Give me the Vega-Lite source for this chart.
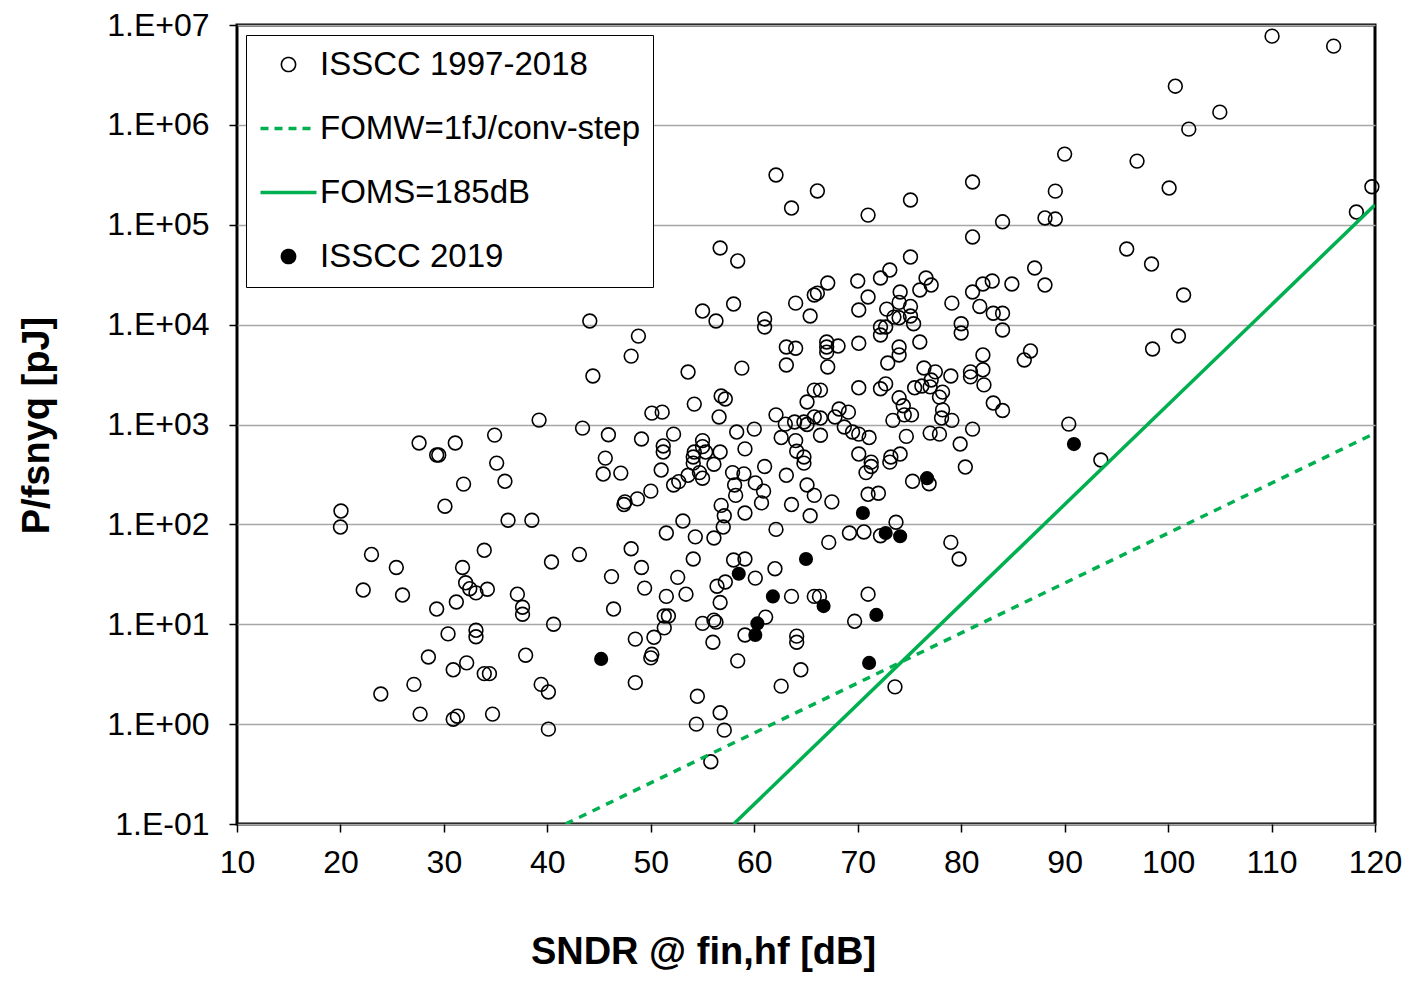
{
  "$schema": "https://vega.github.io/schema/vega-lite/v6.json",
  "width": 1138,
  "height": 799,
  "autosize": {"type": "none"},
  "padding": {"left": 237, "top": 25, "right": 49, "bottom": 157},
  "background": "white",
  "config": {
    "font": "Liberation Sans",
    "view": {"stroke": "black", "strokeWidth": 3}
  },
  "datasets": {
    "old": [
      {"sndr":20.05,"e":136},{"sndr":20,"e":94},{"sndr":23,"e":50},{"sndr":22.2,"e":22},{"sndr":25.4,"e":37},{"sndr":26,"e":19.6},{"sndr":23.9,"e":2.0},{"sndr":27.6,"e":653},{"sndr":29.3,"e":495},{"sndr":29.5,"e":495},{"sndr":31.1,"e":653},{"sndr":30.1,"e":152},{"sndr":31.9,"e":253},{"sndr":28.5,"e":4.7},{"sndr":27.1,"e":2.5},{"sndr":27.7,"e":1.26},{"sndr":29.3,"e":14.2},{"sndr":30.4,"e":8.0},{"sndr":30.9,"e":3.5},{"sndr":30.9,"e":1.12},{"sndr":31.3,"e":1.2},{"sndr":31.2,"e":16.7},{"sndr":31.8,"e":37},{"sndr":32.1,"e":26},{"sndr":32.5,"e":22.7},{"sndr":33.1,"e":20.6},{"sndr":34.2,"e":22.4},{"sndr":32.2,"e":4.1},{"sndr":33.1,"e":8.7},{"sndr":33.1,"e":7.5},{"sndr":33.9,"e":55},{"sndr":33.9,"e":3.2},{"sndr":34.4,"e":3.2},{"sndr":34.7,"e":1.26},{"sndr":34.9,"e":783},{"sndr":35.1,"e":411},{"sndr":35.9,"e":270},{"sndr":36.2,"e":110},{"sndr":37.1,"e":20},{"sndr":37.6,"e":14.8},{"sndr":37.6,"e":12.6},{"sndr":37.9,"e":4.9},{"sndr":38.5,"e":110},{"sndr":39.2,"e":1107},{"sndr":39.4,"e":2.5},{"sndr":40.1,"e":2.1},{"sndr":40.1,"e":0.89},{"sndr":40.4,"e":42},{"sndr":40.6,"e":10},{"sndr":43.1,"e":50},{"sndr":44.1,"e":10870},{"sndr":44.4,"e":3060},{"sndr":43.4,"e":920},{"sndr":45.9,"e":790},{"sndr":45.6,"e":461},{"sndr":45.4,"e":319},{"sndr":46.2,"e":30},{"sndr":46.4,"e":14.2},{"sndr":47.1,"e":326},{"sndr":47.4,"e":158},{"sndr":47.5,"e":168},{"sndr":48.7,"e":180},{"sndr":50,"e":215},{"sndr":48.8,"e":7680},{"sndr":48.1,"e":4840},{"sndr":49.1,"e":716},{"sndr":48.1,"e":57},{"sndr":49.1,"e":37},{"sndr":49.4,"e":23},{"sndr":48.5,"e":7.1},{"sndr":48.5,"e":2.6},{"sndr":50.1,"e":5.0},{"sndr":50,"e":4.6},{"sndr":50.3,"e":7.4},
      {"sndr":50.1,"e":1300},{"sndr":51.1,"e":1330},{"sndr":51.2,"e":610},{"sndr":51.2,"e":530},{"sndr":52.2,"e":800},{"sndr":51,"e":350},{"sndr":52.2,"e":248},{"sndr":52.7,"e":268},{"sndr":53.6,"e":310},{"sndr":53.1,"e":108},{"sndr":51.5,"e":82},{"sndr":51.5,"e":19},{"sndr":51.3,"e":12.1},{"sndr":51.7,"e":12.1},{"sndr":51.3,"e":9.2},{"sndr":52.6,"e":29.5},{"sndr":53.4,"e":20},{"sndr":53.6,"e":3350},{"sndr":54.2,"e":1600},{"sndr":54.1,"e":473},{"sndr":54.2,"e":530},{"sndr":54.1,"e":410},{"sndr":54.7,"e":330},{"sndr":54.3,"e":75},{"sndr":54.1,"e":45},{"sndr":54.5,"e":1.9},{"sndr":54.4,"e":1.0},{"sndr":55,"e":13680},{"sndr":55,"e":690},{"sndr":55,"e":600},{"sndr":55,"e":290},{"sndr":55.3,"e":530},{"sndr":55,"e":10.2},{"sndr":55.8,"e":0.42},{"sndr":56.3,"e":10870},{"sndr":56.7,"e":58500},{"sndr":56.8,"e":1930},{"sndr":57.2,"e":1800},{"sndr":56.6,"e":1190},{"sndr":56.7,"e":530},{"sndr":56.1,"e":400},{"sndr":56.1,"e":73},{"sndr":56.8,"e":155},{"sndr":57.1,"e":122},{"sndr":57,"e":94},{"sndr":56.4,"e":24},{"sndr":57.2,"e":26.5},{"sndr":56.7,"e":16.5},{"sndr":56.1,"e":11},{"sndr":56.3,"e":10.5},{"sndr":56,"e":6.6},{"sndr":56.7,"e":1.3},{"sndr":57.1,"e":0.87},
      {"sndr":58,"e":16070},{"sndr":58.4,"e":43400},{"sndr":58.8,"e":3670},{"sndr":58.3,"e":840},{"sndr":57.9,"e":330},{"sndr":58.1,"e":248},{"sndr":58.2,"e":195},{"sndr":58,"e":44},{"sndr":58.4,"e":4.3},{"sndr":59.1,"e":570},{"sndr":59,"e":320},{"sndr":59.1,"e":130},{"sndr":59.1,"e":45},{"sndr":59.1,"e":7.8},{"sndr":60,"e":900},{"sndr":60.1,"e":260},{"sndr":60.7,"e":164},{"sndr":60.1,"e":29},{"sndr":61,"e":11400},{"sndr":61,"e":9460},{"sndr":60.9,"e":215},{"sndr":61,"e":380},{"sndr":61.1,"e":11.8},{"sndr":62.1,"e":315000},{"sndr":62.1,"e":1250},{"sndr":62.6,"e":740},{"sndr":62.1,"e":89},{"sndr":62,"e":36},{"sndr":62.6,"e":2.4},{"sndr":63.1,"e":5970},{"sndr":63.1,"e":3940},{"sndr":63,"e":1010},{"sndr":63.6,"e":147000},{"sndr":63.6,"e":158},{"sndr":63.6,"e":19},{"sndr":63.1,"e":310},{"sndr":64,"e":16400},{"sndr":64,"e":5800},{"sndr":64,"e":690},{"sndr":64.1,"e":540},{"sndr":63.9,"e":1060},{"sndr":64.8,"e":1060},{"sndr":64.8,"e":473},{"sndr":64.8,"e":410},{"sndr":64.1,"e":7.6},{"sndr":64.1,"e":6.6},{"sndr":64.5,"e":3.5},{"sndr":65.1,"e":1000},{"sndr":65.1,"e":1680},{"sndr":65.8,"e":2210},{"sndr":65.8,"e":1190},{"sndr":65.1,"e":248},{"sndr":65.8,"e":195},{"sndr":65.4,"e":122},{"sndr":65.8,"e":19},{"sndr":65.4,"e":12200},{"sndr":65.8,"e":19800},{"sndr":66.1,"e":218000},{"sndr":66.1,"e":20700},{"sndr":66.4,"e":2210},{"sndr":66.4,"e":1160},{"sndr":66.4,"e":780},{"sndr":66.3,"e":19},
      {"sndr":67.1,"e":26100},{"sndr":67,"e":6700},{"sndr":67,"e":5970},{"sndr":67,"e":5300},{"sndr":67.1,"e":3770},{"sndr":67.5,"e":168},{"sndr":67.2,"e":66},{"sndr":67.8,"e":1190},{"sndr":68.1,"e":6100},{"sndr":68.2,"e":1430},{"sndr":68.7,"e":944},{"sndr":69.1,"e":1330},{"sndr":69.5,"e":840},{"sndr":69.2,"e":82},{"sndr":69.7,"e":10.7},{"sndr":70,"e":27300},{"sndr":70.1,"e":14000},{"sndr":70.1,"e":6500},{"sndr":70.1,"e":2330},{"sndr":70.1,"e":800},{"sndr":70.1,"e":506},{"sndr":70.6,"e":84},{"sndr":70.8,"e":330},{"sndr":71,"e":125000},{"sndr":71,"e":18900},{"sndr":71,"e":200},{"sndr":71,"e":20},{"sndr":71.1,"e":740},{"sndr":71.3,"e":380},{"sndr":71.3,"e":420},{"sndr":72,"e":205},{"sndr":72.2,"e":29300},{"sndr":72.8,"e":14300},{"sndr":72.2,"e":9460},{"sndr":72.7,"e":9460},{"sndr":72.2,"e":7870},{"sndr":72.9,"e":4130},{"sndr":72.2,"e":2280},{"sndr":72.7,"e":2550},{"sndr":73.4,"e":1100},{"sndr":73.2,"e":473},{"sndr":72.2,"e":77},{"sndr":73.1,"e":35200},{"sndr":73.1,"e":420},{"sndr":73.5,"e":11900},{"sndr":73.7,"e":105},{"sndr":73.6,"e":2.36},{"sndr":74,"e":11700},{"sndr":74,"e":16700},{"sndr":74.1,"e":21200},{"sndr":74,"e":5970},{"sndr":74,"e":4970},{"sndr":74,"e":1850},{"sndr":74.4,"e":1540},{"sndr":74.5,"e":1250},{"sndr":74.1,"e":506},{"sndr":74.7,"e":760},
      {"sndr":75.1,"e":177000},{"sndr":75.1,"e":47500},{"sndr":75.1,"e":15200},{"sndr":75.1,"e":12200},{"sndr":75.4,"e":10200},{"sndr":75.5,"e":2330},{"sndr":75.2,"e":1250},{"sndr":75.3,"e":270},{"sndr":76,"e":22200},{"sndr":76,"e":6700},{"sndr":76.2,"e":2430},{"sndr":76.4,"e":3680},{"sndr":76.6,"e":29300},{"sndr":76.9,"e":255},{"sndr":77.1,"e":24900},{"sndr":77,"e":2380},{"sndr":77.1,"e":2790},{"sndr":77.5,"e":3360},{"sndr":77,"e":820},{"sndr":77.9,"e":1880},{"sndr":77.9,"e":800},{"sndr":78.2,"e":2110},{"sndr":78.2,"e":1400},{"sndr":78.1,"e":1160},{"sndr":79,"e":3060},{"sndr":79.1,"e":16400},{"sndr":79.1,"e":1100},{"sndr":79,"e":66},{"sndr":79.8,"e":45},{"sndr":79.9,"e":637},{"sndr":80,"e":10200},{"sndr":80,"e":8240},{"sndr":80.4,"e":375},{"sndr":80.9,"e":3360},{"sndr":80.9,"e":3000},{"sndr":81.1,"e":268000},{"sndr":81.1,"e":75500},{"sndr":81.1,"e":21200},{"sndr":81.1,"e":900},{"sndr":81.8,"e":15200},{"sndr":82.1,"e":25500},{"sndr":82.1,"e":4970},{"sndr":82.1,"e":3530},{"sndr":82.2,"e":2490},{"sndr":83,"e":27300},{"sndr":83.1,"e":13000},{"sndr":83.1,"e":1640},{"sndr":84,"e":107000},{"sndr":84,"e":13000},{"sndr":84,"e":8830},{"sndr":84,"e":1380},{"sndr":84.9,"e":25500},{"sndr":86.1,"e":4430},{"sndr":86.7,"e":5450},{"sndr":87.1,"e":36900},{"sndr":88.1,"e":117000},{"sndr":88.1,"e":24900},{"sndr":89.1,"e":217000},{"sndr":89.1,"e":114000},{"sndr":90,"e":510000},{"sndr":90.4,"e":1010},{"sndr":93.5,"e":441},{"sndr":96,"e":57200},{"sndr":97,"e":434000},{"sndr":98.4,"e":40400},{"sndr":98.5,"e":5700},{"sndr":100.1,"e":233000},{"sndr":100.7,"e":2440000},{"sndr":101,"e":7690},{"sndr":101.5,"e":19800},{"sndr":102,"e":906000},{"sndr":105,"e":1340000},{"sndr":110.05,"e":7730000},{"sndr":116,"e":6140000},{"sndr":118.2,"e":134000},{"sndr":119.7,"e":240000}
    ],
    "new": [
      {"sndr":45.2,"e":4.5},{"sndr":58.5,"e":32},{"sndr":60.3,"e":10.2},{"sndr":60.1,"e":7.8},{"sndr":61.8,"e":19},{"sndr":65,"e":45},{"sndr":66.7,"e":15.2},{"sndr":70.5,"e":130},{"sndr":71.1,"e":4.1},{"sndr":71.8,"e":12.4},{"sndr":72.7,"e":82},{"sndr":74.1,"e":76},{"sndr":76.7,"e":290},{"sndr":90.9,"e":637}
    ],
    "fomw": [
      {"sndr":41.76,"e":0.1},{"sndr":120,"e":817.6}
    ],
    "foms": [
      {"sndr":58.01,"e":0.1},{"sndr":120,"e":158114}
    ]
  },
  "encoding": {
    "x": {
      "field": "sndr", "type": "quantitative",
      "scale": {"domain": [10, 120], "nice": false, "zero": false},
      "axis": {
        "values": [10,20,30,40,50,60,70,80,90,100,110,120],
        "grid": false, "domain": false, "labelFlush": false,
        "tickColor": "black", "tickSize": 8, "tickWidth": 1.5,
        "labelFontSize": 32, "labelColor": "black", "labelPadding": 15,
        "title": "SNDR @ fin,hf  [dB]",
        "titleFontSize": 38, "titleFontWeight": "bold", "titleColor": "black",
        "titleX": 466, "titleY": 139, "titleBaseline": "alphabetic", "titleAlign": "center"
      }
    },
    "y": {
      "field": "e", "type": "quantitative",
      "scale": {"type": "log", "domain": [0.1, 10000000], "nice": false},
      "axis": {
        "values": [0.1,1,10,100,1000,10000,100000,1000000,10000000],
        "labelExpr": "'1.E' + (datum.value < 1 ? '-' : '+') + '0' + abs(round(log(datum.value)/LN10))",
        "grid": true, "gridColor": "#A6A6A6", "gridWidth": 1.5,
        "domain": false, "labelFlush": false,
        "tickColor": "black", "tickSize": 8, "tickWidth": 1.5,
        "labelFontSize": 32, "labelColor": "black", "labelPadding": 20,
        "title": "P/fsnyq [pJ]",
        "titleFontSize": 38, "titleFontWeight": "bold", "titleColor": "black",
        "titleAngle": -90, "titleX": -189, "titleY": 400, "titleBaseline": "alphabetic", "titleAlign": "center"
      }
    },
    "color": {
      "field": "series", "type": "nominal",
      "scale": {
        "domain": ["ISSCC 1997-2018", "FOMW=1fJ/conv-step", "FOMS=185dB", "ISSCC 2019"],
        "range": ["black", "#00B050", "#00B050", "black"]
      },
      "legend": {
        "title": null,
        "orient": "none", "legendX": 9, "legendY": 10,
        "strokeColor": "black", "fillColor": "white", "padding": 13,
        "labelFontSize": 33, "labelColor": "black", "labelLimit": 600,
        "labelOffset": 15, "symbolOffset": 13,
        "rowPadding": 30,
        "encode": {
          "symbols": {
            "update": {
              "shape": {"signal": "(datum.value === 'FOMW=1fJ/conv-step' || datum.value === 'FOMS=185dB') ? 'stroke' : 'circle'"},
              "size": {"signal": "(datum.value === 'FOMW=1fJ/conv-step' || datum.value === 'FOMS=185dB') ? 3136 : 200"},
              "fill": {"signal": "datum.value === 'ISSCC 2019' ? 'black' : 'white'"},
              "fillOpacity": {"signal": "datum.value === 'ISSCC 2019' ? 1 : 0"},
              "stroke": {"signal": "(datum.value === 'FOMW=1fJ/conv-step' || datum.value === 'FOMS=185dB') ? '#00B050' : 'black'"},
              "strokeWidth": {"signal": "(datum.value === 'FOMW=1fJ/conv-step' || datum.value === 'FOMS=185dB') ? 3.5 : 1.6"},
              "strokeDash": {"signal": "datum.value === 'FOMW=1fJ/conv-step' ? [8, 6] : [1, 0]"},
              "strokeCap": {"value": "butt"},
              "opacity": {"value": 1}
            }
          }
        }
      }
    }
  },
  "layer": [
    {
      "data": {"name": "old"},
      "transform": [{"calculate": "'ISSCC 1997-2018'", "as": "series"}],
      "mark": {"type": "point", "shape": "circle", "filled": false, "size": 190, "strokeWidth": 1.6, "opacity": 1}
    },
    {
      "data": {"name": "fomw"},
      "transform": [{"calculate": "'FOMW=1fJ/conv-step'", "as": "series"}],
      "mark": {"type": "line", "strokeWidth": 3.5, "strokeDash": [8, 7], "clip": true}
    },
    {
      "data": {"name": "foms"},
      "transform": [{"calculate": "'FOMS=185dB'", "as": "series"}],
      "mark": {"type": "line", "strokeWidth": 3.5, "clip": true}
    },
    {
      "data": {"name": "new"},
      "transform": [{"calculate": "'ISSCC 2019'", "as": "series"}],
      "mark": {"type": "point", "shape": "circle", "filled": true, "size": 200, "strokeWidth": 0, "opacity": 1}
    }
  ]
}
